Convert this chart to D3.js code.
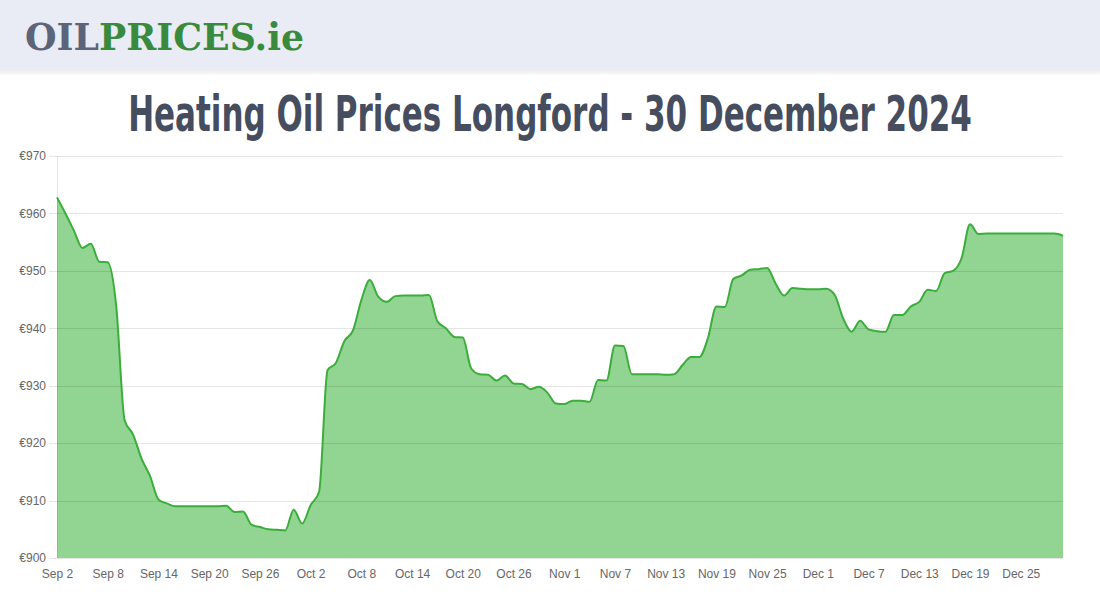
<!DOCTYPE html>
<html>
<head>
<meta charset="utf-8">
<script src="https://cdn.jsdelivr.net/npm/d3@7"></script>
<style>
  html, body { margin: 0; padding: 0; background: #ffffff; }
  svg { display: block; }
</style>
</head>
<body>
<svg id="chart" width="1100" height="600"></svg>
<script>
// ---- Data ----
const startDate = "2024-09-02";
const prices = [
  962.8, 960.0, 957.0, 954.0, 954.7, 951.6, 951.5, 944.0, 924.0, 921.5,
  917.3, 914.3, 910.2, 909.5, 909.0, 909.0, 909.0, 909.0, 909.0, 909.0,
  909.1, 908.0, 908.1, 905.8, 905.4, 905.0, 904.9, 904.8, 908.4, 906.0,
  909.2, 911.5, 932.7, 934.0, 937.8, 939.6, 944.9, 948.4, 945.5, 944.6,
  945.6, 945.7, 945.7, 945.7, 945.8, 941.2, 940.0, 938.5, 938.4, 933.0,
  932.0, 931.9, 930.9, 931.8, 930.4, 930.3, 929.4, 929.8, 928.8, 926.9,
  926.8, 927.4, 927.4, 927.2, 931.0, 930.9, 937.0, 936.9, 932.0, 932.0,
  932.0, 932.0, 931.9, 932.0, 933.6, 935.0, 935.0, 938.3, 943.8, 943.7,
  948.6, 949.2, 950.2, 950.3, 950.5, 947.8, 945.7, 947.0, 946.9, 946.8,
  946.8, 946.9, 945.8, 941.7, 939.4, 941.3, 939.8, 939.5, 939.4, 942.3,
  942.3, 943.8, 944.6, 946.7, 946.5, 949.6, 950.0, 952.2, 958.1, 956.4,
  956.5, 956.5, 956.5, 956.5, 956.5, 956.5, 956.5, 956.5, 956.5, 956.1
];
const xTickLabels = ["Sep 2","Sep 8","Sep 14","Sep 20","Sep 26","Oct 2","Oct 8","Oct 14","Oct 20","Oct 26",
  "Nov 1","Nov 7","Nov 13","Nov 19","Nov 25","Dec 1","Dec 7","Dec 13","Dec 19","Dec 25"];
const yTicks = [900, 910, 920, 930, 940, 950, 960, 970];
const titleText = "Heating Oil Prices Longford - 30 December 2024";

// ---- Build ----
const parse = d3.timeParse("%Y-%m-%d");
const d0 = parse(startDate);
const data = prices.map((v, i) => ({ date: d3.timeDay.offset(d0, i), value: v }));
const tickDates = xTickLabels.map(l => d3.timeParse("%b %d %Y")(l + " 2024"));

const svg = d3.select("#chart");
const W = 1100, H = 600;
const m = { left: 57, right: 1063, top: 156, bottom: 558 };

// Header band
const defs = svg.append("defs");
const grad = defs.append("linearGradient").attr("id", "shadow").attr("x1", 0).attr("y1", 0).attr("x2", 0).attr("y2", 1);
grad.append("stop").attr("offset", "0%").attr("stop-color", "#000").attr("stop-opacity", 0.08);
grad.append("stop").attr("offset", "100%").attr("stop-color", "#000").attr("stop-opacity", 0);
svg.append("rect").attr("x", 0).attr("y", 70).attr("width", W).attr("height", 6).attr("fill", "url(#shadow)");
svg.append("rect").attr("x", 0).attr("y", 0).attr("width", W).attr("height", 70).attr("fill", "#e9ecf4");

const logo = svg.append("text")
  .attr("x", 25).attr("y", 50)
  .attr("font-family", "DejaVu Serif")
  .attr("font-weight", "bold")
  .attr("font-size", 38)
  .attr("textLength", 279)
  .attr("lengthAdjust", "spacingAndGlyphs");
logo.append("tspan").attr("fill", "#5b6479").text("OIL");
logo.append("tspan").attr("fill", "#3a8a3e").text("PRICES.ie");

// Title (scaled horizontally to the reference width)
const titleG = svg.append("g");
const title = titleG.append("text")
  .attr("x", 0).attr("y", 0)
  .attr("text-anchor", "middle")
  .attr("font-family", "Liberation Sans Narrow, DejaVu Sans Condensed, sans-serif")
  .attr("font-weight", "bold")
  .attr("font-size", 50)
  .attr("fill", "#454d5e")
  .text(titleText);
const tw = title.node().getComputedTextLength();
const sx = Math.min(1, 844 / tw);
titleG.attr("transform", `translate(550,131) scale(${sx},1)`);

// Scales
const x = d3.scaleTime()
  .domain([data[0].date, data[data.length - 1].date])
  .range([m.left, m.right]);
const y = d3.scaleLinear().domain([900, 970]).range([m.bottom, m.top]);

// Area + line
const area = d3.area()
  .x(d => x(d.date)).y0(y(900)).y1(d => y(d.value))
  .curve(d3.curveMonotoneX);
const line = d3.line()
  .x(d => x(d.date)).y(d => y(d.value))
  .curve(d3.curveMonotoneX);

svg.append("path").datum(data).attr("d", area).attr("fill", "#92d592");

// Grid lines (drawn above fill, semi-transparent)
const yAxis = d3.axisLeft(y).tickValues(yTicks).tickSize(-(m.right - m.left + 8)).tickPadding(3)
  .tickFormat(d => "€" + d);
const gy = svg.append("g").attr("transform", `translate(${m.left - 8},0)`).call(yAxis);
gy.select(".domain").remove();
gy.selectAll(".tick line").attr("stroke", "rgba(0,0,0,0.1)").attr("shape-rendering", "crispEdges");
gy.selectAll(".tick text")
  .attr("font-family", "Liberation Sans, Arial, sans-serif")
  .attr("font-size", 12).attr("fill", "#666");

// Left axis line
svg.append("line").attr("x1", m.left).attr("x2", m.left).attr("y1", m.top).attr("y2", m.bottom)
  .attr("stroke", "rgba(0,0,0,0.1)").attr("shape-rendering", "crispEdges");

svg.append("path").datum(data).attr("d", line)
  .attr("fill", "none").attr("stroke", "#3aad3a").attr("stroke-width", 2);

// X axis
const xAxis = d3.axisBottom(x).tickValues(tickDates).tickSize(0).tickPadding(11)
  .tickFormat((d, i) => xTickLabels[i]);
const gx = svg.append("g").attr("transform", `translate(0,${m.bottom})`).call(xAxis);
gx.select(".domain").remove();
gx.selectAll(".tick text")
  .attr("font-family", "Liberation Sans, Arial, sans-serif")
  .attr("font-size", 12).attr("fill", "#666");
</script>
</body>
</html>
